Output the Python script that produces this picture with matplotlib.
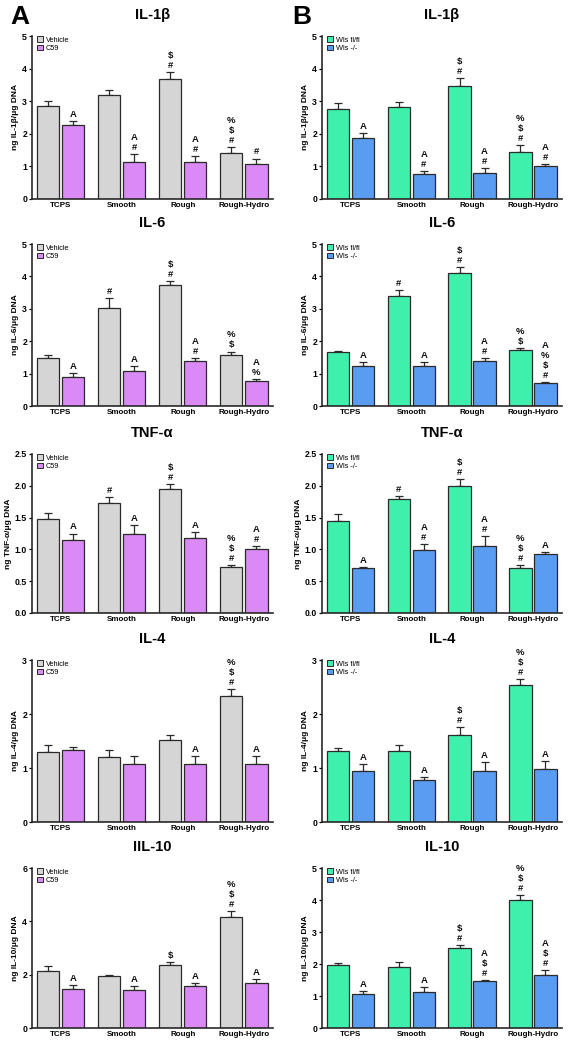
import numpy as np
import matplotlib.pyplot as plt
from matplotlib.patches import Patch

plt.rcParams["font.family"] = ["Liberation Sans", "DejaVu Sans"]

groups = ["TCPS", "Smooth", "Rough", "Rough-Hydro"]

# column A: Vehicle vs C59
il1b_veh = [2.85, 3.19, 3.68, 1.42]
il1b_veh_err = [0.15, 0.15, 0.22, 0.18]
il1b_c59 = [2.27, 1.15, 1.12, 1.07]
il1b_c59_err = [0.13, 0.23, 0.20, 0.17]

il6_veh = [1.49, 3.04, 3.74, 1.56]
il6_veh_err = [0.09, 0.29, 0.11, 0.12]
il6_c59 = [0.91, 1.09, 1.39, 0.78]
il6_c59_err = [0.10, 0.13, 0.08, 0.06]

tnf_veh = [1.48, 1.73, 1.95, 0.72]
tnf_veh_err = [0.09, 0.09, 0.08, 0.03]
tnf_c59 = [1.14, 1.25, 1.18, 1.00]
tnf_c59_err = [0.11, 0.13, 0.09, 0.05]

il4_veh = [1.30, 1.21, 1.52, 2.33]
il4_veh_err = [0.13, 0.13, 0.10, 0.13]
il4_c59 = [1.34, 1.08, 1.08, 1.08]
il4_c59_err = [0.05, 0.14, 0.14, 0.14]

il10_veh = [2.13, 1.94, 2.38, 4.16]
il10_veh_err = [0.18, 0.06, 0.10, 0.22]
il10_c59 = [1.46, 1.44, 1.56, 1.69]
il10_c59_err = [0.14, 0.12, 0.13, 0.15]

# column B: Wls fl/fl vs Wls -/-
il1b_fl = [2.75, 2.83, 3.47, 1.45]
il1b_fl_err = [0.18, 0.14, 0.23, 0.21]
il1b_ko = [1.88, 0.77, 0.81, 1.01]
il1b_ko_err = [0.13, 0.10, 0.15, 0.05]

il6_fl = [1.66, 3.41, 4.10, 1.73]
il6_fl_err = [0.05, 0.18, 0.18, 0.07]
il6_ko = [1.25, 1.25, 1.39, 0.72]
il6_ko_err = [0.12, 0.12, 0.08, 0.03]

tnf_fl = [1.44, 1.80, 2.00, 0.70]
tnf_fl_err = [0.12, 0.04, 0.11, 0.06]
tnf_ko = [0.70, 0.99, 1.06, 0.92]
tnf_ko_err = [0.02, 0.10, 0.15, 0.04]

il4_fl = [1.32, 1.32, 1.62, 2.53]
il4_fl_err = [0.05, 0.11, 0.14, 0.12]
il4_ko = [0.95, 0.78, 0.95, 0.99]
il4_ko_err = [0.12, 0.06, 0.16, 0.14]

il10_fl = [1.98, 1.90, 2.51, 4.01]
il10_fl_err = [0.05, 0.15, 0.09, 0.14]
il10_ko = [1.06, 1.11, 1.47, 1.65]
il10_ko_err = [0.10, 0.18, 0.02, 0.15]

# significance marks, listed top to bottom, per group: (first bar, second bar)
il1b_a_marks = [("", "A"), ("", "A#"), ("$#", "A#"), ("%$#", "#")]
il6_a_marks = [("", "A"), ("#", "A"), ("$#", "A#"), ("%$", "A%")]
tnf_a_marks = [("", "A"), ("#", "A"), ("$#", "A"), ("%$#", "A#")]
il4_a_marks = [("", ""), ("", ""), ("", "A"), ("%$#", "A")]
il10_a_marks = [("", "A"), ("", "A"), ("$", "A"), ("%$#", "A")]

il1b_b_marks = [("", "A"), ("", "A#"), ("$#", "A#"), ("%$#", "A#")]
il6_b_marks = [("", "A"), ("#", "A"), ("$#", "A#"), ("%$", "A%$#")]
tnf_b_marks = [("", "A"), ("#", "A#"), ("$#", "A#"), ("%$#", "A")]
il4_b_marks = [("", "A"), ("", "A"), ("$#", "A"), ("%$#", "A")]
il10_b_marks = [("", "A"), ("", "A"), ("$#", "A$#"), ("%$#", "A$#")]

titles_a = ["IL-1\u03b2", "IL-6", "TNF-\u03b1", "IL-4", "IIL-10"]
titles_b = ["IL-1\u03b2", "IL-6", "TNF-\u03b1", "IL-4", "IL-10"]
ylabels = ["ng IL-1\u03b2/\u03bcg DNA", "ng IL-6/\u03bcg DNA", "ng TNF-\u03b1/\u03bcg DNA",
           "ng IL-4/\u03bcg DNA", "ng IL-10/\u03bcg DNA"]
ymax_a = [5, 5, 2.5, 3, 6]
ymax_b = [5, 5, 2.5, 3, 5]
ystep_a = [1, 1, 0.5, 1, 2]
ystep_b = [1, 1, 0.5, 1, 1]

GRAY, VIOLET = "#d5d5d5", "#d98af4"
GREEN, BLUE = "#3ff0ad", "#5a9cf2"
EDGE = "#2a2a2a"

W, H = 569, 1050
fig = plt.figure(figsize=(W / 100, H / 100), dpi=100)

rows_px = [(36, 199), (244, 406), (454, 613), (660, 822), (868, 1028)]
cols_px = [(32, 273), (322, 562)]


def make_ax(col, row):
    l, r = cols_px[col]
    t, b = rows_px[row]
    return fig.add_axes([l / W, 1 - b / H, (r - l) / W, (b - t) / H])


def draw_panel(ax, v1, e1, v2, e2, c1, c2, names, marks, title, ylabel, ymax, ystep, fmt):
    x = np.arange(len(groups))
    w = 0.37
    off = 0.205
    for vals, errs, xs, col in [(v1, e1, x - off, c1), (v2, e2, x + off, c2)]:
        ax.bar(xs, vals, width=w, color=col, edgecolor=EDGE, linewidth=0.9, zorder=2)
        ax.errorbar(xs, vals, yerr=[np.zeros(len(vals)), errs], fmt="none",
                    ecolor=EDGE, elinewidth=0.9, capsize=3, capthick=0.9, zorder=1)
    tops1 = np.array(v1) + np.array(e1)
    tops2 = np.array(v2) + np.array(e2)
    for i, (m1, m2) in enumerate(marks):
        for m, xx, top in [(m1, i - off, tops1[i]), (m2, i + off, tops2[i])]:
            for k, ch in enumerate(reversed(m)):
                ax.annotate(ch, (xx, top), xytext=(0, 1.5 + k * 7.2),
                            textcoords="offset points", ha="center", va="bottom",
                            fontsize=6.8, fontweight="bold", color="#111111")
    ax.set_xlim(-0.47, 3.48)
    ax.set_ylim(0, ymax)
    ax.set_yticks(np.arange(0, ymax + 1e-9, ystep))
    ax.yaxis.set_major_formatter(plt.FormatStrFormatter(fmt))
    ax.set_xticks(x)
    ax.set_xticklabels(groups, fontsize=5.8, fontweight="bold")
    ax.tick_params(axis="x", length=0, pad=2)
    ax.tick_params(axis="y", labelsize=6.3, length=2.5, width=0.9, pad=1)
    for lab in ax.get_yticklabels():
        lab.set_fontweight("bold")
    for s in ["top", "right"]:
        ax.spines[s].set_visible(False)
    for s in ["left", "bottom"]:
        ax.spines[s].set_linewidth(1.2)
        ax.spines[s].set_color(EDGE)
    ax.set_ylabel(ylabel, fontsize=6, fontweight="bold", labelpad=2)
    ax.set_title(title, fontsize=10.5, fontweight="bold", pad=12)
    handles = [Patch(facecolor=c1, edgecolor=EDGE, linewidth=0.7, label=names[0]),
               Patch(facecolor=c2, edgecolor=EDGE, linewidth=0.7, label=names[1])]
    ax.legend(handles=handles, loc="upper left", bbox_to_anchor=(0.0, 1.03), frameon=False,
              fontsize=5.3, handlelength=0.8, handleheight=0.8, handletextpad=0.4,
              labelspacing=0.15, borderaxespad=0.3)


data_a = [
    (il1b_veh, il1b_veh_err, il1b_c59, il1b_c59_err, il1b_a_marks),
    (il6_veh, il6_veh_err, il6_c59, il6_c59_err, il6_a_marks),
    (tnf_veh, tnf_veh_err, tnf_c59, tnf_c59_err, tnf_a_marks),
    (il4_veh, il4_veh_err, il4_c59, il4_c59_err, il4_a_marks),
    (il10_veh, il10_veh_err, il10_c59, il10_c59_err, il10_a_marks),
]
data_b = [
    (il1b_fl, il1b_fl_err, il1b_ko, il1b_ko_err, il1b_b_marks),
    (il6_fl, il6_fl_err, il6_ko, il6_ko_err, il6_b_marks),
    (tnf_fl, tnf_fl_err, tnf_ko, tnf_ko_err, tnf_b_marks),
    (il4_fl, il4_fl_err, il4_ko, il4_ko_err, il4_b_marks),
    (il10_fl, il10_fl_err, il10_ko, il10_ko_err, il10_b_marks),
]

for r in range(5):
    fmt = "%.1f" if r == 2 else "%d"
    v1, e1, v2, e2, mk = data_a[r]
    draw_panel(make_ax(0, r), v1, e1, v2, e2, GRAY, VIOLET, ["Vehicle", "C59"], mk,
               titles_a[r], ylabels[r], ymax_a[r], ystep_a[r], fmt)
    v1, e1, v2, e2, mk = data_b[r]
    draw_panel(make_ax(1, r), v1, e1, v2, e2, GREEN, BLUE, ["Wls fl/fl", "Wls -/-"], mk,
               titles_b[r], ylabels[r], ymax_b[r], ystep_b[r], fmt)

fig.text(10 / W, 1 - 17 / H, "A", fontsize=19, fontweight="bold", va="center", ha="left")
fig.text(292 / W, 1 - 17 / H, "B", fontsize=19, fontweight="bold", va="center", ha="left")

fig.savefig("out.png", dpi=100)
plt.close(fig)
